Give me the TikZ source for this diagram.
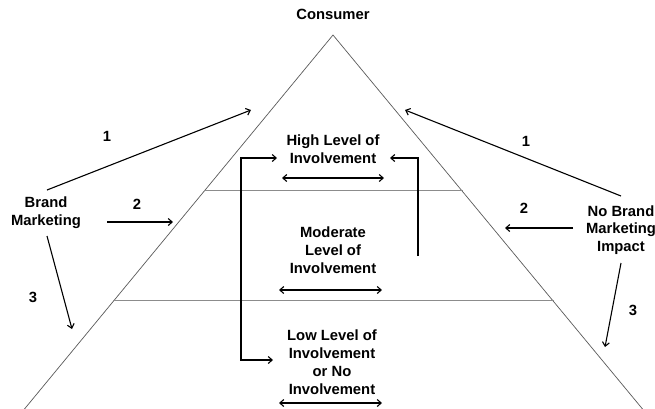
\documentclass[tikz,border=0pt]{standalone}
\usepackage{fontspec}
\setmainfont{Liberation Sans}
\usetikzlibrary{arrows.meta}
\tikzset{
  lbl/.style={font=\bfseries\fontsize{14.8}{17.8}\selectfont, align=center, inner sep=0pt},
  num/.style={font=\bfseries\fontsize{14.8}{17}\selectfont, inner sep=0pt},
  side/.style={draw=black!65, line width=0.7pt},
  tier/.style={draw=black!45, line width=0.7pt},
  arr/.style={draw=black, line width=1.1pt, -{Straight Barb[length=4pt,width=7pt]}},
  darr/.style={draw=black, line width=1.1pt, {Straight Barb[length=4pt,width=7pt]}-{Straight Barb[length=4pt,width=7pt]}},
}
\begin{document}
\begin{tikzpicture}[x=1pt,y=-1pt]
\useasboundingbox (0,0) rectangle (655,408);
% pyramid
\coordinate (apex) at (333,35);
\coordinate (bl) at (22,412);
\coordinate (br) at (645,412);
\draw[side] (bl) -- (apex) -- (br);
\coordinate (t1l) at (204,190);
\coordinate (t1r) at (463,190);
\coordinate (t2l) at (113,300);
\coordinate (t2r) at (554,300);
\draw[tier] (t1l) -- (t1r);
\draw[tier] (t2l) -- (t2r);
% labels
\node[lbl] (consumer) at (333,14) {Consumer};
\node[lbl] (high) at (333,149) {High Level of\\Involvement};
\node[lbl] (moderate) at (333,250) {Moderate\\Level of\\Involvement};
\node[lbl] (low) at (332,362) {Low Level of\\Involvement\\or No\\Involvement};
\node[lbl] (brand) at (46,213) {Brand\\Marketing};
\node[lbl] (nobrand) at (621,230) {No Brand\\Marketing\\Impact};
% double arrows
\coordinate (h1) at (282,178); \coordinate (h2) at (384,178);
\coordinate (m1) at (279,290); \coordinate (m2) at (382,290);
\coordinate (l1) at (279,403); \coordinate (l2) at (382,403);
\draw[darr] (h1) -- (h2);
\draw[darr] (m1) -- (m2);
\draw[darr] (l1) -- (l2);
% brackets
\coordinate (lbTop) at (277,158);
\coordinate (lbBot) at (273,360);
\draw[darr] (lbTop) -- (241,158) -- (241,360) -- (lbBot);
\coordinate (rbStart) at (418,256);
\coordinate (rbEnd) at (390,158);
\draw[arr] (rbStart) -- (418,158) -- (rbEnd);
% left arrows
\coordinate (bm1s) at (47,190); \coordinate (bm1e) at (251,110);
\coordinate (bm2s) at (107,222); \coordinate (bm2e) at (173,222);
\coordinate (bm3s) at (47,236); \coordinate (bm3e) at (72,329);
\draw[arr] (bm1s) -- (bm1e);
\draw[arr] (bm2s) -- (bm2e);
\draw[arr] (bm3s) -- (bm3e);
\node[num] (n1l) at (107,136) {1};
\node[num] (n2l) at (137,204) {2};
\node[num] (n3l) at (33,297) {3};
% right arrows
\coordinate (nb1s) at (621,196); \coordinate (nb1e) at (405,110);
\coordinate (nb2s) at (573,228); \coordinate (nb2e) at (505,228);
\coordinate (nb3s) at (621,263); \coordinate (nb3e) at (605,347);
\draw[arr] (nb1s) -- (nb1e);
\draw[arr] (nb2s) -- (nb2e);
\draw[arr] (nb3s) -- (nb3e);
\node[num] (n1r) at (526,141) {1};
\node[num] (n2r) at (524,208) {2};
\node[num] (n3r) at (633,310) {3};
\end{tikzpicture}
\end{document}
